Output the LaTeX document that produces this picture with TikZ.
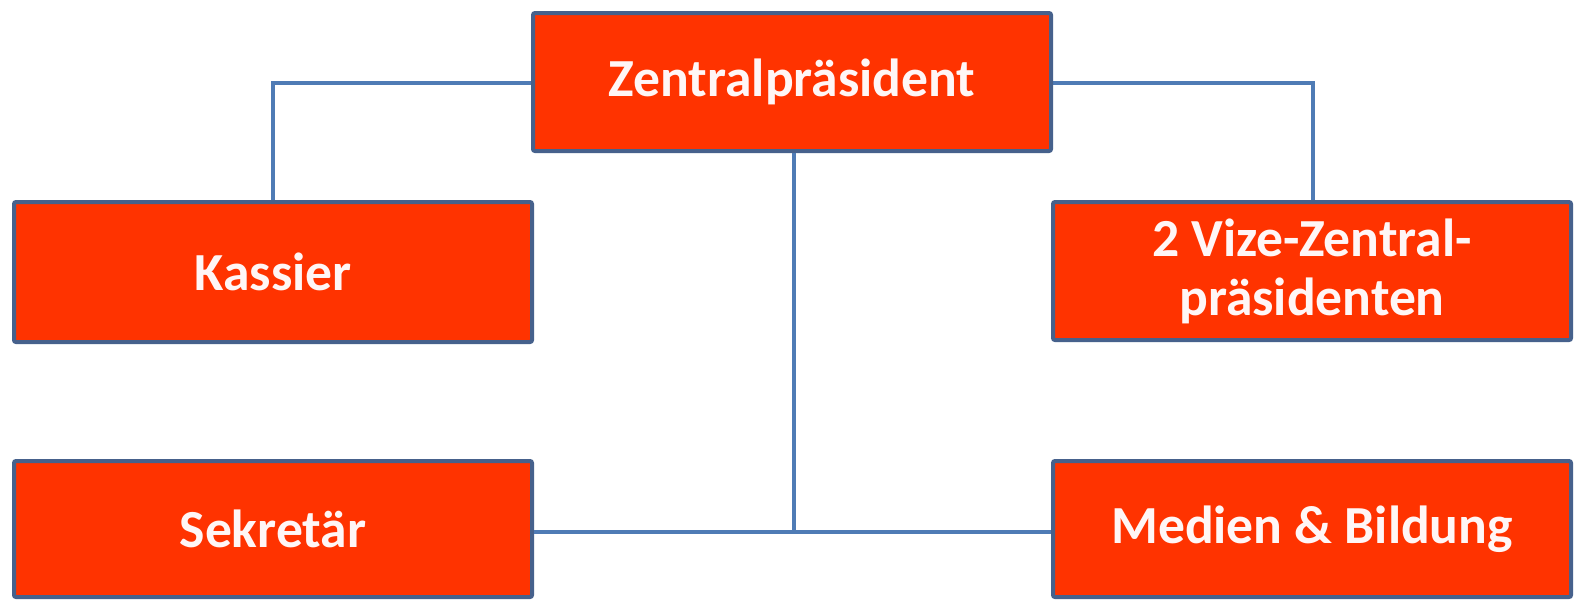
\documentclass[tikz,border=0pt]{standalone}
\usepackage{fontspec}
\setmainfont{Carlito}
\definecolor{boxfill}{HTML}{FF3300}
\definecolor{boxborder}{HTML}{46618C}
\definecolor{linkcol}{HTML}{4F7BB5}
\definecolor{txt}{HTML}{FFF6F6}
\begin{document}
\begin{tikzpicture}[x=0.5pt,y=-0.5pt,
  orgbox/.style={draw=boxborder, fill=boxfill, line width=2pt, rounded corners=1pt,
    minimum width=259pt, minimum height=69pt, inner sep=0pt, align=center,
    text=txt, font=\fontsize{26.8}{29.5}\selectfont\bfseries},
  link/.style={draw=linkcol, line width=1.8pt}]
\useasboundingbox (0,0) rectangle (1576,602);
\fill[white] (0,0) rectangle (1576,602);
\draw[link] (533,83) -| (273,202);
\draw[link] (1051,83) -| (1313,202);
\node[orgbox] (zp) at (792,82) {Zentralpräsident};
\node[orgbox, minimum height=70pt] (ka) at (273,272) {Kassier};
\node[orgbox] (vz) at (1312,271) {2 Vize-Zentral-\\präsidenten};
\node[orgbox, minimum height=68pt] (se) at (273,529) {Sekretär};
\node[orgbox, minimum height=68pt] (me) at (1312,529) {Medien \& Bildung};
\coordinate (j) at (794,532);
\draw[link] (zp.south -| j) -- (j);
\draw[link] (se.east |- j) -- (me.west |- j);
\end{tikzpicture}
\end{document}
